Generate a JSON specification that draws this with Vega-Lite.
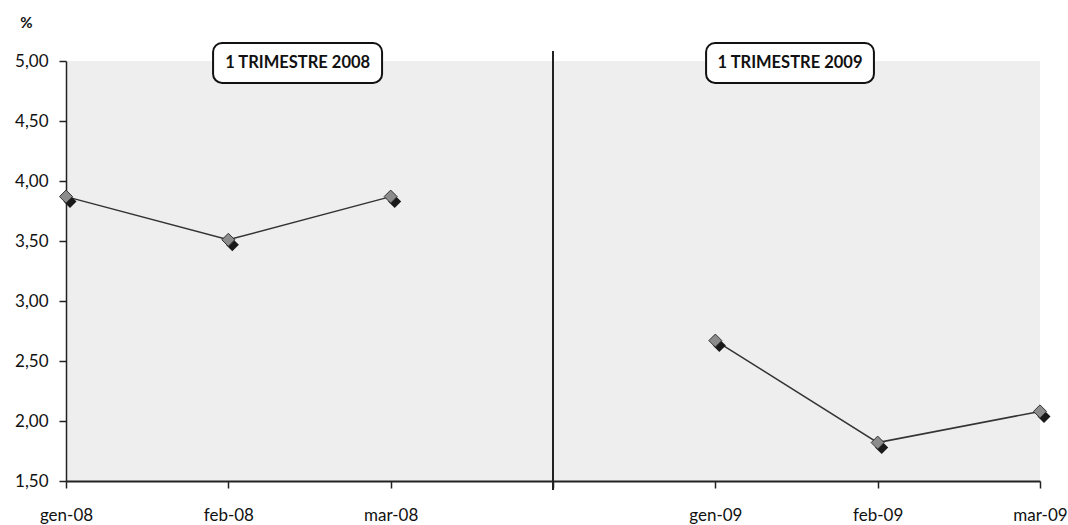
{
  "$schema": "https://vega.github.io/schema/vega-lite/v6.json",
  "width": 974,
  "height": 420,
  "autosize": "none",
  "padding": {"left": 66, "top": 61, "right": 28, "bottom": 44},
  "background": "#ffffff",
  "config": {
    "view": {"fill": "#eeeeee", "stroke": null},
    "font": "Lato"
  },
  "datasets": {
    "series": [
      {"idx": 0, "mese": "gen-08", "trimestre": "2008", "valore": 3.87},
      {"idx": 1, "mese": "feb-08", "trimestre": "2008", "valore": 3.51},
      {"idx": 2, "mese": "mar-08", "trimestre": "2008", "valore": 3.87},
      {"idx": 4, "mese": "gen-09", "trimestre": "2009", "valore": 2.67},
      {"idx": 5, "mese": "feb-09", "trimestre": "2009", "valore": 1.82},
      {"idx": 6, "mese": "mar-09", "trimestre": "2009", "valore": 2.08}
    ],
    "boxes": [
      {"label": "1  TRIMESTRE 2008", "x0": 0.906, "x1": 1.947, "xc": 1.427, "y0": 4.817, "y1": 5.15, "yc": 4.983},
      {"label": "1  TRIMESTRE 2009", "x0": 3.943, "x1": 4.977, "xc": 4.46, "y0": 4.817, "y1": 5.15, "yc": 4.983}
    ],
    "divider": [{"x": 3, "y0": 1.425, "y1": 5.083}]
  },
  "layer": [
    {
      "data": {"name": "series"},
      "mark": {"type": "line", "color": "#333333", "strokeWidth": 1.5},
      "encoding": {
        "x": {
          "field": "idx", "type": "quantitative",
          "scale": {"domain": [0, 6], "nice": false, "zero": false},
          "axis": {
            "title": null,
            "values": [0, 1, 2, 3, 4, 5, 6],
            "labelExpr": "['gen-08','feb-08','mar-08','','gen-09','feb-09','mar-09'][datum.value]",
            "labelFlush": false, "labelOverlap": false,
            "grid": false,
            "domainColor": "#222222", "domainWidth": 2,
            "tickColor": "#222222", "tickWidth": 1.5, "tickSize": 7,
            "labelFontSize": 17, "labelColor": "#111111", "labelPadding": 19,
            "labelFont": "Lato"
          }
        },
        "y": {
          "field": "valore", "type": "quantitative",
          "scale": {"domain": [1.5, 5], "nice": false, "zero": false},
          "axis": {
            "title": "%",
            "titleAngle": 0, "titleX": -40, "titleY": -39,
            "titleAlign": "center", "titleBaseline": "middle",
            "titleFontSize": 15, "titleFontWeight": "bold", "titleColor": "#111111",
            "values": [1.5, 2, 2.5, 3, 3.5, 4, 4.5, 5],
            "labelExpr": "replace(format(datum.value, '.2f'), '.', ',')",
            "labelFlush": false, "labelOverlap": false,
            "grid": false,
            "domainColor": "#222222", "domainWidth": 1.5,
            "tickColor": "#222222", "tickWidth": 1.5, "tickSize": 7,
            "labelFontSize": 17, "labelColor": "#111111", "labelPadding": 11,
            "labelFont": "Lato"
          }
        },
        "detail": {"field": "trimestre"}
      }
    },
    {
      "data": {"name": "series"},
      "mark": {"type": "point", "shape": "diamond", "filled": true, "size": 170, "color": "#1a1a1a", "opacity": 1},
      "encoding": {
        "x": {"field": "idx", "type": "quantitative"},
        "y": {"field": "valore", "type": "quantitative"},
        "xOffset": {"value": 4},
        "yOffset": {"value": 5}
      }
    },
    {
      "data": {"name": "series"},
      "mark": {"type": "point", "shape": "diamond", "filled": true, "size": 170, "color": "#8c8c8c", "stroke": "#333333", "strokeWidth": 1, "opacity": 1},
      "encoding": {
        "x": {"field": "idx", "type": "quantitative"},
        "y": {"field": "valore", "type": "quantitative"}
      }
    },
    {
      "data": {"name": "divider"},
      "mark": {"type": "rule", "color": "#222222", "strokeWidth": 2},
      "encoding": {
        "x": {"field": "x", "type": "quantitative"},
        "y": {"field": "y0", "type": "quantitative"},
        "y2": {"field": "y1"}
      }
    },
    {
      "data": {"name": "boxes"},
      "mark": {"type": "rect", "fill": "#ffffff", "stroke": "#111111", "strokeWidth": 2, "cornerRadius": 9},
      "encoding": {
        "x": {"field": "x0", "type": "quantitative"},
        "x2": {"field": "x1"},
        "y": {"field": "y0", "type": "quantitative"},
        "y2": {"field": "y1"}
      }
    },
    {
      "data": {"name": "boxes"},
      "mark": {"type": "text", "fontSize": 16.5, "fontWeight": "bold", "color": "#111111", "align": "center", "baseline": "middle", "font": "Lato"},
      "encoding": {
        "x": {"field": "xc", "type": "quantitative"},
        "y": {"field": "yc", "type": "quantitative"},
        "text": {"field": "label"}
      }
    }
  ]
}
